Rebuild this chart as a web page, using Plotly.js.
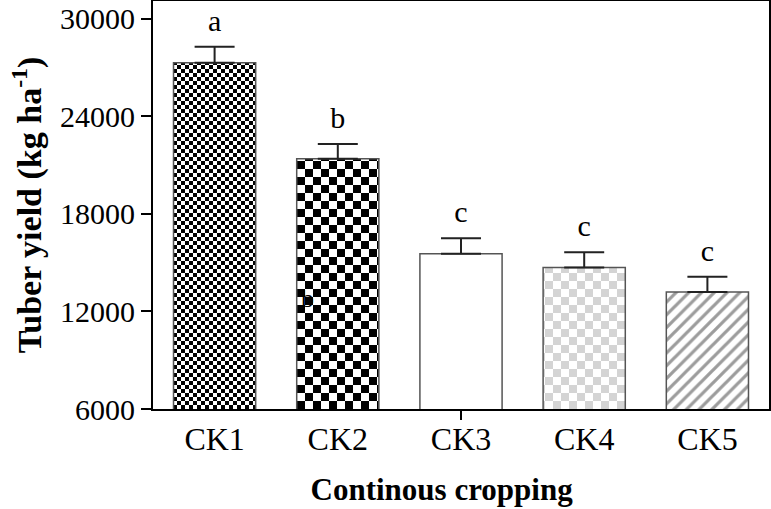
<!DOCTYPE html>
<html>
<head>
<meta charset="utf-8">
<script src="https://cdn.plot.ly/plotly-3.0.1.min.js"></script>
<style>
html,body{margin:0;padding:0;background:#fff;}
#chart{width:771px;height:509px;}
</style>
</head>
<body>
<div id="chart"></div>
<script>
// ---- data ----
const categories = ['CK1', 'CK2', 'CK3', 'CK4', 'CK5'];
const yieldMean = [27300, 21400, 15550, 14700, 13200];
const yieldErr = [980, 900, 950, 950, 930];
const letters = ['a', 'b', 'c', 'c', 'c'];
const yTicks = [6000, 12000, 18000, 24000, 30000];

// ---- styles (kept apart from data) ----
const fillKinds = ['checkerSmall', 'checker', 'plain', 'checkerGray', 'hatch'];
const FONT = 'Liberation Serif, Times New Roman, serif';

const letterY = yieldMean.map((v, i) => v + yieldErr[i]);

const barTrace = {
  type: 'bar',
  x: categories,
  y: yieldMean,
  base: 0,
  marker: {
    color: '#ffffff',
    line: {color: '#555555', width: 1.5},
    pattern: {
      shape: fillKinds.map(k => k === 'hatch' ? '/' : ''),
      fgcolor: '#3a3a3a',
      bgcolor: '#ffffff',
      size: 9,
      solidity: 0.36,
      fillmode: 'overlay'
    }
  },
  error_y: {
    type: 'data',
    symmetric: false,
    array: yieldErr,
    arrayminus: yieldErr.map(() => 0),
    color: '#222222',
    thickness: 2,
    width: 20
  },
  hoverinfo: 'none',
  showlegend: false
};

const letterTrace = {
  type: 'scatter',
  mode: 'markers+text',
  x: categories,
  y: letterY,
  text: letters,
  textposition: 'top center',
  marker: {size: 12, color: 'rgba(0,0,0,0)'},
  textfont: {family: FONT, size: 30, color: '#000'},
  xaxis: 'x2',
  yaxis: 'y',
  cliponaxis: false,
  hoverinfo: 'none',
  showlegend: false
};

const layout = {
  width: 771,
  height: 509,
  margin: {l: 153, r: 2, t: 1, b: 100},
  paper_bgcolor: '#ffffff',
  plot_bgcolor: '#ffffff',
  bargap: 0.333,
  font: {family: FONT, color: '#000'},
  xaxis: {
    type: 'category',
    categoryorder: 'array',
    categoryarray: categories,
    range: [-0.5, 4.5],
    showline: true,
    linecolor: '#000',
    linewidth: 2,
    mirror: true,
    ticks: '',
    showgrid: false,
    zeroline: false,
    tickfont: {family: FONT, size: 32, color: '#000'},
    ticklabelstandoff: 1,
    title: {text: '<b>Continous cropping</b>&nbsp;&nbsp;&nbsp;&nbsp;&nbsp;', font: {family: FONT, size: 31, color: '#000'}, standoff: 22}
  },
  xaxis2: {
    type: 'category',
    categoryorder: 'array',
    categoryarray: categories,
    range: [-0.5, 4.5],
    overlaying: 'x',
    anchor: 'y',
    side: 'bottom',
    tickvals: ['CK3'],
    ticks: 'outside',
    ticklen: 10,
    tickwidth: 2,
    tickcolor: '#000',
    showticklabels: false,
    showline: false,
    showgrid: false,
    zeroline: false
  },
  yaxis: {
    range: [6000, 31100],
    tickvals: yTicks,
    ticktext: yTicks.map(String),
    ticks: 'outside',
    ticklen: 10,
    tickwidth: 2,
    tickcolor: '#000',
    showline: true,
    linecolor: '#000',
    linewidth: 2,
    mirror: true,
    showgrid: false,
    zeroline: false,
    tickfont: {family: FONT, size: 30, color: '#000'},
    title: {text: '<b>Tuber yield (kg ha<sup>-1</sup>)</b>', font: {family: FONT, size: 34, color: '#000'}, standoff: 8}
  },
  annotations: [{
    xref: 'x', yref: 'y', x: 'CK2', y: 12800,
    text: 'b', showarrow: false, xshift: -30,
    font: {family: FONT, size: 26, color: '#000'}
  }]
};

function addCheckerPattern(defs, id, s, c1, c2) {
  const ns = 'http://www.w3.org/2000/svg';
  const p = document.createElementNS(ns, 'pattern');
  p.setAttribute('id', id);
  p.setAttribute('width', 2 * s);
  p.setAttribute('height', 2 * s);
  p.setAttribute('patternUnits', 'userSpaceOnUse');
  const mk = (x, y, w, h, f) => {
    const r = document.createElementNS(ns, 'rect');
    r.setAttribute('x', x); r.setAttribute('y', y);
    r.setAttribute('width', w); r.setAttribute('height', h);
    r.setAttribute('fill', f);
    p.appendChild(r);
  };
  mk(0, 0, 2 * s, 2 * s, c2);
  mk(0, 0, s, s, c1);
  mk(s, s, s, s, c1);
  defs.appendChild(p);
}

Plotly.newPlot('chart', [barTrace, letterTrace], layout, {staticPlot: true, displayModeBar: false}).then(gd => {
  const svg = gd.querySelector('.main-svg');
  let defs = svg.querySelector('defs');
  addCheckerPattern(defs, 'chkSmall', 4, '#000000', '#ffffff');
  addCheckerPattern(defs, 'chkBig', 8, '#000000', '#ffffff');
  addCheckerPattern(defs, 'chkGray', 8, '#d4d4d4', '#ffffff');
  const map = {checkerSmall: 'chkSmall', checker: 'chkBig', checkerGray: 'chkGray'};
  const paths = gd.querySelectorAll('.barlayer .trace.bars .point path');
  paths.forEach((p, i) => {
    const id = map[fillKinds[i]];
    if (id) p.style.fill = 'url(#' + id + ')';
  });
});
</script>
</body>
</html>
